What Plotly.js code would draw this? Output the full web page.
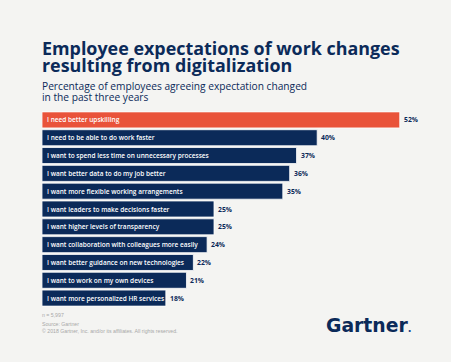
<!DOCTYPE html>
<html>
<head>
<meta charset="utf-8">
<script src="https://cdn.plot.ly/plotly-3.0.1.min.js"></script>
<style>html,body{margin:0;padding:0;background:#f4f4f2;}#chart{width:451px;height:362px;}</style>
</head>
<body>
<div id="chart"></div>
<script>
const categories = [
  "I need better upskilling",
  "I need to be able to do work faster",
  "I want to spend less time on unnecessary processes",
  "I want better data to do my job better",
  "I want more flexible working arrangements",
  "I want leaders to make decisions faster",
  "I want higher levels of transparency",
  "I want collaboration with colleagues more easily",
  "I want better guidance on new technologies",
  "I want to work on my own devices",
  "I want more personalized HR services"
];
const values = [52, 40, 37, 36, 35, 25, 25, 24, 22, 21, 18];
const valueLabels = ["52%", "40%", "37%", "36%", "35%", "25%", "25%", "24%", "22%", "21%", "18%"];
const highlightIndex = 0;
const titleLines = ["Employee expectations of work changes", "resulting from digitalization"];
const subtitleLines = ["Percentage of employees agreeing expectation changed", "in the past three years"];
const footerLines = ["n = 5,997", "Source: Gartner", "© 2018 Gartner, Inc. and/or its affiliates. All rights reserved."];

const NAVY = "#0b2a59";
const ORANGE = "#e9533a";
const BG = "#f4f4f2";
const W = 451, H = 362;
const M = { l: 42, r: 9, t: 111, b: 55 };
const PW = W - M.l - M.r, PH = H - M.t - M.b;
const px = q => (q - M.l) / PW;
const py = p => (H - M.b - p) / PH;

const barColors = categories.map((c, i) => i === highlightIndex ? ORANGE : NAVY);

const trace = {
  type: "bar",
  orientation: "h",
  y: categories,
  x: values,
  width: 0.9,
  marker: { color: barColors, line: { color: "#ffffff", width: 0.8 } },
  hoverinfo: "skip"
};

const annotations = [];
categories.forEach((c, i) => {
  annotations.push({
    x: 0, y: c, xref: "x", yref: "y", text: c, showarrow: false,
    xanchor: "left", xshift: 3,
    font: { family: "'Open Sans', Arial, sans-serif", size: 6.5, color: "#ffffff", weight: 600 }
  });
  annotations.push({
    x: values[i], y: c, xref: "x", yref: "y", text: valueLabels[i], showarrow: false,
    xanchor: "left", xshift: 2,
    font: { family: "'Open Sans', Arial, sans-serif", size: 6.8, color: NAVY, weight: 700 }
  });
});

const txt = (text, xpix, ypix, font, xanchor) => ({
  xref: "paper", yref: "paper", x: px(xpix), y: py(ypix), xanchor: xanchor || "left", yanchor: "middle",
  text: text, showarrow: false, font: font
});

const titleFont = { family: "'Open Sans', Arial, sans-serif", size: 17.9, color: NAVY, weight: 700 };
annotations.push(txt(titleLines[0], 40, 48.5, titleFont));
annotations.push(txt(titleLines[1], 40, 64.5, titleFont));
const subFont = { family: "'Open Sans', Arial, sans-serif", size: 10.2, color: NAVY };
annotations.push(txt(subtitleLines[0], 40, 85.5, subFont));
annotations.push(txt(subtitleLines[1], 40, 97, subFont));
const footFont = { family: "Arial, sans-serif", size: 5.2, color: "#a8a8a8" };
annotations.push(txt(footerLines[0], 40, 315, footFont));
annotations.push(txt(footerLines[1], 40, 324, footFont));
annotations.push(txt(footerLines[2], 40, 330.5, footFont));
annotations.push(txt("<b>Gartner</b><span style='font-size:10px;color:#1d4a8c'><b>.</b></span>", 414, 325,
  { family: "'DejaVu Sans', sans-serif", size: 18.8, color: NAVY }, "right"));

const layout = {
  width: W, height: H,
  paper_bgcolor: BG, plot_bgcolor: BG,
  margin: M,
  showlegend: false,
  xaxis: { range: [0, 58.14], visible: false, fixedrange: true },
  yaxis: { autorange: "reversed", visible: false, fixedrange: true },
  bargap: 0.1,
  annotations: annotations
};

Plotly.newPlot("chart", [trace], layout, { displayModeBar: false, staticPlot: true });
</script>
</body>
</html>
